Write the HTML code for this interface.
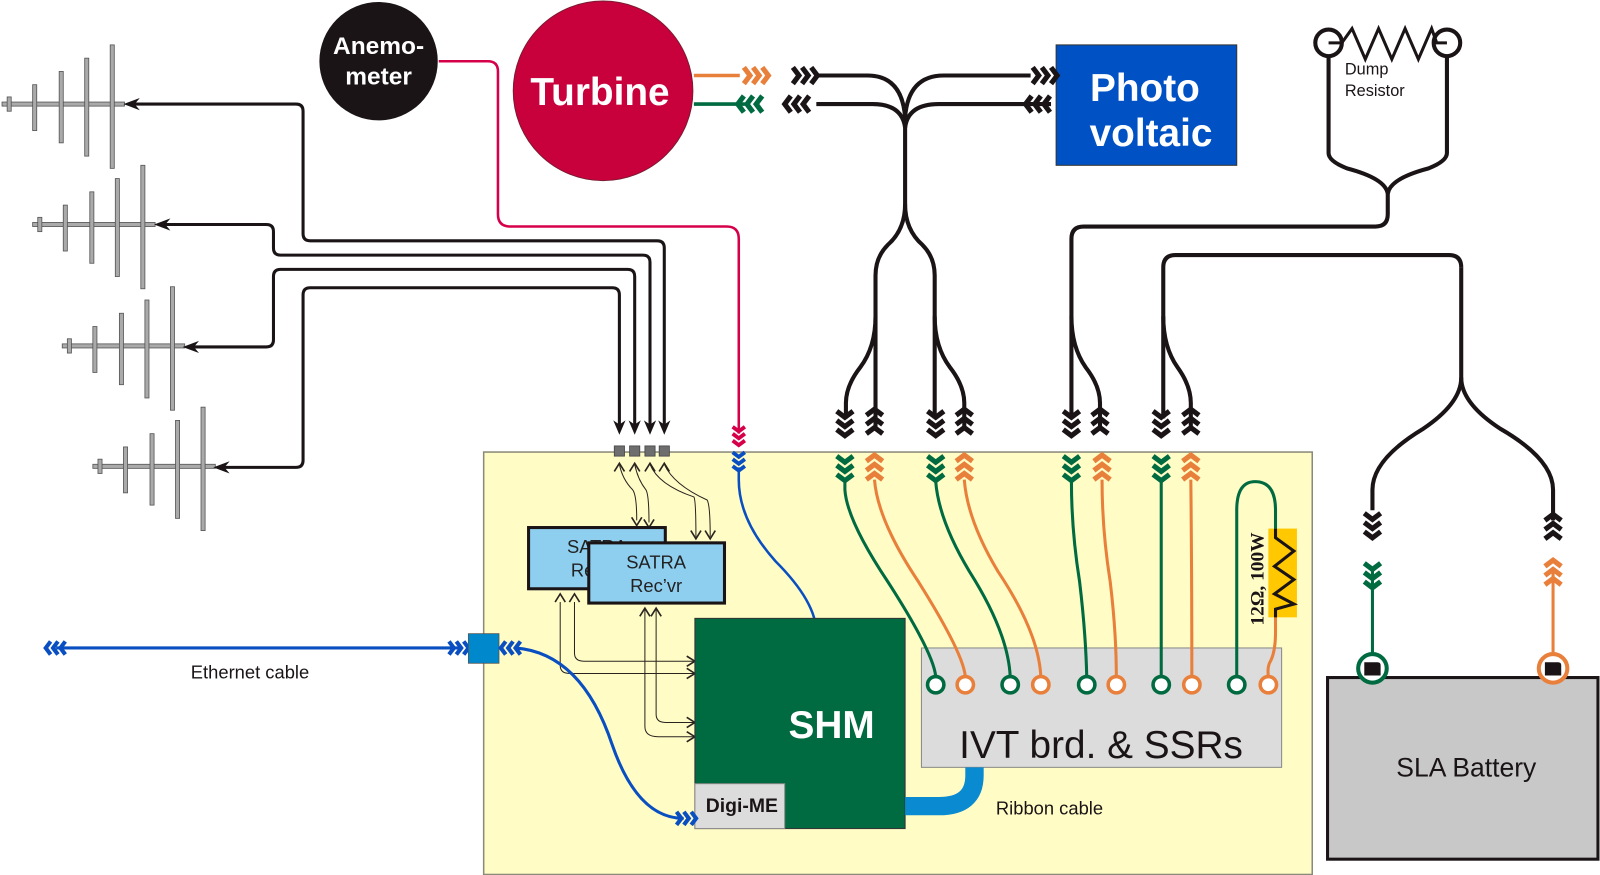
<!DOCTYPE html>
<html><head><meta charset="utf-8"><style>
html,body{margin:0;padding:0;background:#fff}
svg{display:block}
text{font-family:"Liberation Sans",sans-serif}
</style></head><body>
<svg width="1600" height="875" viewBox="0 0 1568 857.5" preserveAspectRatio="none" xmlns="http://www.w3.org/2000/svg">
<defs>
<g id="cd"><path d="M-8,-25 L0,-19 L8,-25 M-8,-16 L0,-10 L8,-16 M-8,-7 L0,-1 L8,-7" fill="none" stroke="currentColor" stroke-width="5"/></g>
<g id="ca"><path d="M-5,-8 L0,0 L5,-8" fill="none" stroke="currentColor" stroke-width="1.6"/></g>
</defs>

<rect x="474" y="443" width="812" height="414" fill="#fffcc6" stroke="#8a8a7a" stroke-width="1.5"/>

<g fill="#aaa" stroke="#555" stroke-width="0.8">
<g transform="translate(0,0)">
<rect x="2" y="100" width="120" height="4"/>
<rect x="7" y="95" width="4" height="14"/><rect x="32" y="83" width="4" height="45"/><rect x="58" y="70" width="4" height="70"/><rect x="83" y="57" width="4" height="96"/><rect x="108" y="44" width="4" height="121"/>
</g>
<g transform="translate(30,118)">
<rect x="2" y="100" width="120" height="4"/>
<rect x="7" y="95" width="4" height="14"/><rect x="32" y="83" width="4" height="45"/><rect x="58" y="70" width="4" height="70"/><rect x="83" y="57" width="4" height="96"/><rect x="108" y="44" width="4" height="121"/>
</g>
<g transform="translate(59,237)">
<rect x="2" y="100" width="120" height="4"/>
<rect x="7" y="95" width="4" height="14"/><rect x="32" y="83" width="4" height="45"/><rect x="58" y="70" width="4" height="70"/><rect x="83" y="57" width="4" height="96"/><rect x="108" y="44" width="4" height="121"/>
</g>
<g transform="translate(89,355)">
<rect x="2" y="100" width="120" height="4"/>
<rect x="7" y="95" width="4" height="14"/><rect x="32" y="83" width="4" height="45"/><rect x="58" y="70" width="4" height="70"/><rect x="83" y="57" width="4" height="96"/><rect x="108" y="44" width="4" height="121"/>
</g>
</g>

<g fill="none" stroke="#1a1416" stroke-width="3">
<path d="M128,102 H290 Q297,102 297,109 V229 Q297,236 304,236 H644 Q651,236 651,243 V420"/>
<path d="M158,220 H261 Q268,220 268,227 V243 Q268,250 275,250 H630 Q637,250 637,257 V420"/>
<path d="M186,340 H261 Q268,340 268,333 V271 Q268,264 275,264 H615 Q622,264 622,271 V420"/>
<path d="M216,458 H290 Q297,458 297,451 V289 Q297,282 304,282 H600 Q607,282 607,289 V420"/>
</g>
<g fill="#1a1416">
<path d="M121,102 L137,96 L132,102 L137,108Z"/><path d="M151,220 L167,214 L162,220 L167,226Z"/>
<path d="M179,340 L195,334 L190,340 L195,346Z"/><path d="M209,458 L225,452 L220,458 L225,464Z"/>
<path d="M607,426 L601,412 L607,416 L613,412Z"/><path d="M622,426 L616,412 L622,416 L628,412Z"/>
<path d="M637,426 L631,412 L637,416 L643,412Z"/><path d="M651,426 L645,412 L651,416 L657,412Z"/>
</g>
<g fill="#6e6e6e" stroke="#444" stroke-width="0.8">
<rect x="602" y="437" width="10" height="10"/><rect x="617" y="437" width="10" height="10"/><rect x="632" y="437" width="10" height="10"/><rect x="646" y="437" width="10" height="10"/>
</g>
<g fill="none" stroke="#2a2420" stroke-width="1">
<path d="M607,455 Q610,470 620,480 Q624,485 624,510"/>
<path d="M622,455 Q625,470 633,480 Q636,485 636,512"/>
<path d="M637,455 Q645,475 680,487 Q682,490 682,526"/>
<path d="M651,455 Q660,475 693,490 Q696,495 696,526"/>
<path d="M549,590 V652 Q549,660 558,660 H680"/>
<path d="M563,590 V640 Q563,648 572,648 H680"/>
<path d="M632,597 V712 Q632,722 645,722 H680"/>
<path d="M643,597 V700 Q643,708 652,708 H680"/>
</g>
<g color="#2a2420">
<use href="#ca" transform="translate(607,454) rotate(180)"/><use href="#ca" transform="translate(622,454) rotate(180)"/>
<use href="#ca" transform="translate(637,454) rotate(180)"/><use href="#ca" transform="translate(651,454) rotate(180)"/>
<use href="#ca" transform="translate(624,515)"/><use href="#ca" transform="translate(636,517)"/>
<use href="#ca" transform="translate(682,528)"/><use href="#ca" transform="translate(696,528)"/>
<use href="#ca" transform="translate(549,582) rotate(180)"/><use href="#ca" transform="translate(563,582) rotate(180)"/>
<use href="#ca" transform="translate(632,596) rotate(180)"/><use href="#ca" transform="translate(643,596) rotate(180)"/>
<use href="#ca" transform="translate(681,660) rotate(-90)"/><use href="#ca" transform="translate(681,648) rotate(-90)"/>
<use href="#ca" transform="translate(681,722) rotate(-90)"/><use href="#ca" transform="translate(681,708) rotate(-90)"/>
</g>

<path d="M430,60 H478 Q488,60 488,70 V210 Q488,222 500,222 H712 Q724,222 724,234 V425" fill="none" stroke="#d6004a" stroke-width="2.5"/>
<use href="#cd" transform="translate(724,437) scale(0.75)" color="#d6004a"/>
<use href="#cd" transform="translate(724,462) scale(0.75)" color="#0a4fc2"/>
<path d="M724,458 V470 Q724,510 760,550 Q800,590 800,620" fill="none" stroke="#0a4fc2" stroke-width="2.5"/>
<circle cx="371" cy="60" r="58" fill="#1a1416"/>
<text x="371" y="53" fill="#fff" font-size="24" font-weight="bold" text-anchor="middle">Anemo-</text>
<text x="371" y="83" fill="#fff" font-size="24" font-weight="bold" text-anchor="middle">meter</text>

<circle cx="591" cy="89" r="88" fill="#c8003c" stroke="#7a1a30" stroke-width="1"/>
<text x="588" y="103" fill="#fff" font-size="38" font-weight="bold" text-anchor="middle">Turbine</text>
<path d="M680,74 H725" stroke="#e8803c" stroke-width="3.5"/>
<path d="M680,102 H730" stroke="#006a40" stroke-width="3.5"/>
<use href="#cd" transform="translate(754,74) rotate(-90)" color="#e8803c"/>
<use href="#cd" transform="translate(722,102) rotate(90)" color="#006a40"/>
<use href="#cd" transform="translate(802,74) rotate(-90)" color="#1a1416"/>
<use href="#cd" transform="translate(768,102) rotate(90)" color="#1a1416"/>

<rect x="1035" y="44" width="177" height="118" fill="#0052c4" stroke="#333" stroke-width="1"/>
<text x="1122" y="99" fill="#fff" font-size="38" font-weight="bold" text-anchor="middle">Photo</text>
<text x="1128" y="143" fill="#fff" font-size="38" font-weight="bold" text-anchor="middle">voltaic</text>
<use href="#cd" transform="translate(1037,74) rotate(-90)" color="#1a1416"/>
<use href="#cd" transform="translate(1004,102) rotate(90)" color="#1a1416"/>

<g fill="none" stroke="#1a1416" stroke-width="4">
<path d="M800,74 H850 Q884,74 887,115"/>
<path d="M800,102 H855 Q884,102 887,125"/>
<path d="M1010,74 H925 Q890,74 887,115"/>
<path d="M1030,102 H920 Q890,102 887,125"/>
<path d="M887,110 V200 Q887,225 870,240 Q858,252 858,270 V420"/>
<path d="M887,200 Q887,225 904,240 Q916,252 916,270 V410"/>
<path d="M858,310 Q858,340 843,360 Q829,378 829,395 V410"/>
<path d="M916,310 Q916,340 931,360 Q945,378 945,395 V420"/>
<path d="M1302,55 V150 Q1302,158 1320,165 Q1358,175 1360,190 V210 Q1360,222 1348,222 H1062 Q1050,222 1050,234 V410"/>
<path d="M1418,55 V150 Q1418,158 1400,165 Q1362,175 1360,190"/>
<path d="M1050,310 Q1050,340 1064,360 Q1078,378 1078,395 V420"/>
<path d="M1432,262 Q1432,250 1420,250 H1152 Q1140,250 1140,262 V410"/>
<path d="M1140,310 Q1140,340 1154,360 Q1167,378 1167,395 V420"/>
<path d="M1432,262 V370 Q1432,395 1395,420 Q1345,450 1345,480 V500"/>
<path d="M1432,370 Q1432,395 1470,420 Q1522,450 1522,480 V510"/>
</g>
<circle cx="1302" cy="42" r="13" fill="#fff" stroke="#1a1416" stroke-width="4"/>
<circle cx="1418" cy="42" r="13" fill="#fff" stroke="#1a1416" stroke-width="4"/>
<path d="M1302,42 H1315 L1325,28 L1338,58 L1351,28 L1364,58 L1377,28 L1390,58 L1403,28 L1408,42 H1418" fill="none" stroke="#1a1416" stroke-width="3"/>
<text x="1318" y="73" font-size="16" fill="#1a1416">Dump</text>
<text x="1318" y="94" font-size="16" fill="#1a1416">Resistor</text>

<g color="#1a1416">
<use href="#cd" transform="translate(828,428)"/><use href="#cd" transform="translate(857,400) rotate(180)"/>
<use href="#cd" transform="translate(917,428)"/><use href="#cd" transform="translate(945,400) rotate(180)"/>
<use href="#cd" transform="translate(1050,428)"/><use href="#cd" transform="translate(1078,400) rotate(180)"/>
<use href="#cd" transform="translate(1138,428)"/><use href="#cd" transform="translate(1167,400) rotate(180)"/>
<use href="#cd" transform="translate(1345,528)"/><use href="#cd" transform="translate(1522,503) rotate(180)"/>
</g>
<g color="#006a40">
<use href="#cd" transform="translate(828,472)"/><use href="#cd" transform="translate(917,472)"/>
<use href="#cd" transform="translate(1050,472)"/><use href="#cd" transform="translate(1138,472)"/>
<use href="#cd" transform="translate(1345,577)"/>
</g>
<g color="#e8803c">
<use href="#cd" transform="translate(857,445) rotate(180)"/><use href="#cd" transform="translate(945,445) rotate(180)"/>
<use href="#cd" transform="translate(1080,445) rotate(180)"/><use href="#cd" transform="translate(1167,445) rotate(180)"/>
<use href="#cd" transform="translate(1522,548) rotate(180)"/>
</g>

<rect x="518" y="517" width="134" height="60" fill="#8ecff0" stroke="#1a1416" stroke-width="3"/>
<text x="585" y="542" font-size="18" text-anchor="middle" fill="#222">SATRA</text>
<text x="585" y="565" font-size="18" text-anchor="middle" fill="#222">Rec’vr</text>
<rect x="577" y="532" width="133" height="59" fill="#8ecff0" stroke="#1a1416" stroke-width="3"/>
<text x="643" y="557" font-size="18" text-anchor="middle" fill="#222">SATRA</text>
<text x="643" y="580" font-size="18" text-anchor="middle" fill="#222">Rec’vr</text>

<rect x="903" y="635" width="353" height="117" fill="#dcdcdc" stroke="#888" stroke-width="1"/>
<text x="1079" y="743" font-size="38" text-anchor="middle" fill="#1a1416">IVT brd. &amp; SSRs</text>

<g fill="none" stroke-width="3">
<path d="M828,472 V480 Q830,510 870,570 Q915,640 917,663" stroke="#006a40"/>
<path d="M857,470 Q860,510 900,570 Q944,640 946,663" stroke="#e8803c"/>
<path d="M917,472 Q920,510 950,560 Q988,620 990,663" stroke="#006a40"/>
<path d="M945,470 Q948,510 978,560 Q1018,620 1020,663" stroke="#e8803c"/>
<path d="M1050,472 Q1050,520 1058,570 Q1064,620 1065,663" stroke="#006a40"/>
<path d="M1080,470 Q1080,520 1088,570 Q1094,620 1094,663" stroke="#e8803c"/>
<path d="M1138,472 V663" stroke="#006a40"/>
<path d="M1167,470 Q1168,560 1168,663" stroke="#e8803c"/>
<path d="M1212,663 V500 Q1212,472 1230,472 Q1250,472 1250,500 V520" stroke="#006a40"/>
<path d="M1250,605 V620 Q1250,640 1244,650 Q1242,655 1243,663" stroke="#e8803c"/>
<path d="M1345,560 V642" stroke="#006a40"/>
<path d="M1522,560 V642" stroke="#e8803c"/>
</g>
<g fill="#fff" stroke-width="3.5">
<circle cx="917" cy="671" r="8" stroke="#006a40"/><circle cx="946" cy="671" r="8" stroke="#e8803c"/>
<circle cx="990" cy="671" r="8" stroke="#006a40"/><circle cx="1020" cy="671" r="8" stroke="#e8803c"/>
<circle cx="1065" cy="671" r="8" stroke="#006a40"/><circle cx="1094" cy="671" r="8" stroke="#e8803c"/>
<circle cx="1138" cy="671" r="8" stroke="#006a40"/><circle cx="1168" cy="671" r="8" stroke="#e8803c"/>
<circle cx="1212" cy="671" r="8" stroke="#006a40"/><circle cx="1243" cy="671" r="8" stroke="#e8803c"/>
</g>

<rect x="1243" y="518" width="28" height="87" fill="#ffc800"/>
<path d="M1250,518 V527 L1268,540 L1249,555 L1268,568 L1249,582 L1268,592 L1250,597 V605" fill="none" stroke="#1a1416" stroke-width="3"/>
<text transform="translate(1238,613) rotate(-90)" style="font-family:'Liberation Serif',serif;font-size:19px;font-weight:bold" fill="#1a1416">12Ω, 100W</text>

<rect x="681" y="606" width="206" height="206" fill="#006a40" stroke="#333" stroke-width="1"/>
<text x="815" y="723" font-size="38" font-weight="bold" text-anchor="middle" fill="#fff">SHM</text>
<rect x="681" y="768" width="88" height="44" fill="#dcdcdc" stroke="#888" stroke-width="1"/>
<text x="727" y="796" font-size="19" font-weight="bold" text-anchor="middle" fill="#1a1416">Digi-ME</text>
<path d="M887,790 H920 Q955,790 955,760 V752" fill="none" stroke="#0a8ad0" stroke-width="18"/>
<text x="976" y="798" font-size="18" fill="#1a1416">Ribbon cable</text>

<path d="M55,635 H450" stroke="#0a4fc2" stroke-width="3"/>
<use href="#cd" transform="translate(44,635) rotate(90) scale(0.8)" color="#0a4fc2"/>
<use href="#cd" transform="translate(460,635) rotate(-90) scale(0.8)" color="#0a4fc2"/>
<rect x="459" y="621" width="30" height="29" fill="#0088cc" stroke="#555" stroke-width="0.8"/>
<use href="#cd" transform="translate(490,635) rotate(90) scale(0.8)" color="#0a4fc2"/>
<path d="M505,635 Q570,640 600,730 Q625,802 670,802" fill="none" stroke="#0a4fc2" stroke-width="3"/>
<use href="#cd" transform="translate(683,802) rotate(-90) scale(0.8)" color="#0a4fc2"/>
<text x="245" y="665" font-size="18" text-anchor="middle" fill="#1a1416">Ethernet cable</text>

<rect x="1301" y="664" width="265" height="178" fill="#c8c8c8" stroke="#1a1416" stroke-width="3"/>
<text x="1437" y="761" font-size="26" text-anchor="middle" fill="#1a1416">SLA Battery</text>
<circle cx="1345" cy="655" r="14" fill="#fff" stroke="#006a40" stroke-width="4"/>
<circle cx="1522" cy="655" r="14" fill="#fff" stroke="#e8803c" stroke-width="4"/>
<path d="M1337,649 H1350 Q1353,649 1353,652 V662 H1337Z" fill="#1a1416"/>
<path d="M1514,649 H1527 Q1530,649 1530,652 V662 H1514Z" fill="#1a1416"/>
</svg>
</body></html>
